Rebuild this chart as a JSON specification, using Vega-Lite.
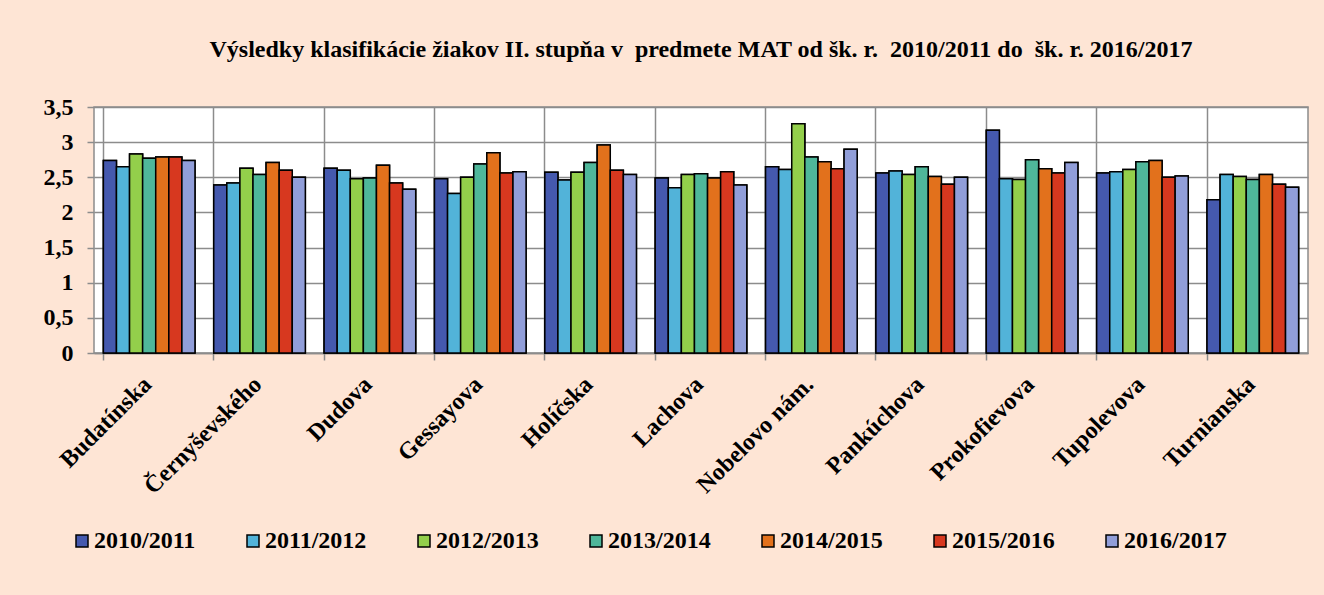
{
  "$schema": "https://vega.github.io/schema/vega-lite/v6.json",
  "width": 1214,
  "height": 246,
  "autosize": {"type": "none"},
  "padding": {"left": 94, "top": 107, "right": 16, "bottom": 242},
  "background": "#FEE5D5",
  "title": {
    "text": "Výsledky klasifikácie žiakov II. stupňa v \u00a0predmete MAT od šk. r. \u00a02010/2011 do \u00a0šk. r. 2016/2017",
    "font": "Liberation Serif",
    "fontSize": 24,
    "fontWeight": "bold",
    "color": "black",
    "anchor": "middle",
    "offset": 33
  },
  "data": {
    "values": [
      {"school": "Budatínska", "year": "2010/2011", "value": 2.74},
      {"school": "Budatínska", "year": "2011/2012", "value": 2.65},
      {"school": "Budatínska", "year": "2012/2013", "value": 2.83},
      {"school": "Budatínska", "year": "2013/2014", "value": 2.77},
      {"school": "Budatínska", "year": "2014/2015", "value": 2.79},
      {"school": "Budatínska", "year": "2015/2016", "value": 2.79},
      {"school": "Budatínska", "year": "2016/2017", "value": 2.74},
      {"school": "Černyševského", "year": "2010/2011", "value": 2.39},
      {"school": "Černyševského", "year": "2011/2012", "value": 2.42},
      {"school": "Černyševského", "year": "2012/2013", "value": 2.63},
      {"school": "Černyševského", "year": "2013/2014", "value": 2.54},
      {"school": "Černyševského", "year": "2014/2015", "value": 2.71},
      {"school": "Černyševského", "year": "2015/2016", "value": 2.60},
      {"school": "Černyševského", "year": "2016/2017", "value": 2.50},
      {"school": "Dudova", "year": "2010/2011", "value": 2.63},
      {"school": "Dudova", "year": "2011/2012", "value": 2.60},
      {"school": "Dudova", "year": "2012/2013", "value": 2.48},
      {"school": "Dudova", "year": "2013/2014", "value": 2.49},
      {"school": "Dudova", "year": "2014/2015", "value": 2.67},
      {"school": "Dudova", "year": "2015/2016", "value": 2.42},
      {"school": "Dudova", "year": "2016/2017", "value": 2.33},
      {"school": "Gessayova", "year": "2010/2011", "value": 2.48},
      {"school": "Gessayova", "year": "2011/2012", "value": 2.27},
      {"school": "Gessayova", "year": "2012/2013", "value": 2.50},
      {"school": "Gessayova", "year": "2013/2014", "value": 2.69},
      {"school": "Gessayova", "year": "2014/2015", "value": 2.85},
      {"school": "Gessayova", "year": "2015/2016", "value": 2.56},
      {"school": "Gessayova", "year": "2016/2017", "value": 2.58},
      {"school": "Holíčska", "year": "2010/2011", "value": 2.57},
      {"school": "Holíčska", "year": "2011/2012", "value": 2.46},
      {"school": "Holíčska", "year": "2012/2013", "value": 2.57},
      {"school": "Holíčska", "year": "2013/2014", "value": 2.71},
      {"school": "Holíčska", "year": "2014/2015", "value": 2.96},
      {"school": "Holíčska", "year": "2015/2016", "value": 2.60},
      {"school": "Holíčska", "year": "2016/2017", "value": 2.54},
      {"school": "Lachova", "year": "2010/2011", "value": 2.49},
      {"school": "Lachova", "year": "2011/2012", "value": 2.35},
      {"school": "Lachova", "year": "2012/2013", "value": 2.54},
      {"school": "Lachova", "year": "2013/2014", "value": 2.55},
      {"school": "Lachova", "year": "2014/2015", "value": 2.49},
      {"school": "Lachova", "year": "2015/2016", "value": 2.58},
      {"school": "Lachova", "year": "2016/2017", "value": 2.39},
      {"school": "Nobelovo nám.", "year": "2010/2011", "value": 2.65},
      {"school": "Nobelovo nám.", "year": "2011/2012", "value": 2.61},
      {"school": "Nobelovo nám.", "year": "2012/2013", "value": 3.26},
      {"school": "Nobelovo nám.", "year": "2013/2014", "value": 2.79},
      {"school": "Nobelovo nám.", "year": "2014/2015", "value": 2.72},
      {"school": "Nobelovo nám.", "year": "2015/2016", "value": 2.62},
      {"school": "Nobelovo nám.", "year": "2016/2017", "value": 2.90},
      {"school": "Pankúchova", "year": "2010/2011", "value": 2.56},
      {"school": "Pankúchova", "year": "2011/2012", "value": 2.59},
      {"school": "Pankúchova", "year": "2012/2013", "value": 2.54},
      {"school": "Pankúchova", "year": "2013/2014", "value": 2.65},
      {"school": "Pankúchova", "year": "2014/2015", "value": 2.51},
      {"school": "Pankúchova", "year": "2015/2016", "value": 2.40},
      {"school": "Pankúchova", "year": "2016/2017", "value": 2.50},
      {"school": "Prokofievova", "year": "2010/2011", "value": 3.17},
      {"school": "Prokofievova", "year": "2011/2012", "value": 2.48},
      {"school": "Prokofievova", "year": "2012/2013", "value": 2.47},
      {"school": "Prokofievova", "year": "2013/2014", "value": 2.75},
      {"school": "Prokofievova", "year": "2014/2015", "value": 2.62},
      {"school": "Prokofievova", "year": "2015/2016", "value": 2.56},
      {"school": "Prokofievova", "year": "2016/2017", "value": 2.71},
      {"school": "Tupolevova", "year": "2010/2011", "value": 2.56},
      {"school": "Tupolevova", "year": "2011/2012", "value": 2.58},
      {"school": "Tupolevova", "year": "2012/2013", "value": 2.61},
      {"school": "Tupolevova", "year": "2013/2014", "value": 2.72},
      {"school": "Tupolevova", "year": "2014/2015", "value": 2.74},
      {"school": "Tupolevova", "year": "2015/2016", "value": 2.50},
      {"school": "Tupolevova", "year": "2016/2017", "value": 2.52},
      {"school": "Turnianska", "year": "2010/2011", "value": 2.18},
      {"school": "Turnianska", "year": "2011/2012", "value": 2.54},
      {"school": "Turnianska", "year": "2012/2013", "value": 2.51},
      {"school": "Turnianska", "year": "2013/2014", "value": 2.47},
      {"school": "Turnianska", "year": "2014/2015", "value": 2.54},
      {"school": "Turnianska", "year": "2015/2016", "value": 2.40},
      {"school": "Turnianska", "year": "2016/2017", "value": 2.36}
    ]
  },
  "encoding": {
    "xOffset": {"field": "year", "type": "nominal", "sort": null},
    "y": {
      "field": "value",
      "type": "quantitative",
      "scale": {"domain": [0, 3.5], "nice": false},
      "axis": {
        "title": null,
        "values": [0, 0.5, 1, 1.5, 2, 2.5, 3, 3.5],
        "labelExpr": "replace(datum.value + '', '.', ',')",
        "grid": true,
        "gridColor": "#8c8c8c",
        "gridWidth": 1.5,
        "domain": false,
        "tickColor": "#8c8c8c",
        "tickWidth": 1.5,
        "tickSize": 7,
        "labelPadding": 14,
        "labelFont": "Liberation Serif",
        "labelFontSize": 24,
        "labelFontWeight": "bold",
        "labelColor": "black"
      }
    },
    "color": {
      "field": "year",
      "type": "nominal",
      "scale": {
        "domain": ["2010/2011", "2011/2012", "2012/2013", "2013/2014", "2014/2015", "2015/2016", "2016/2017"],
        "range": ["#4559AE", "#52B3D9", "#93CF4B", "#4FB79A", "#E2711C", "#D7381F", "#919ED9"]
      },
      "legend": {
        "title": null,
        "orient": "none",
        "legendX": -24,
        "legendY": 422,
        "direction": "horizontal",
        "symbolType": "square",
        "symbolSize": 144,
        "symbolStrokeColor": "black",
        "symbolStrokeWidth": 1.5,
        "labelOffset": 0,
        "columnPadding": 45,
        "labelFont": "Liberation Serif",
        "labelFontSize": 24,
        "labelFontWeight": "bold",
        "labelColor": "black"
      }
    }
  },
  "layer": [
    {
      "mark": {"type": "bar", "stroke": "black", "strokeWidth": 1.5},
      "encoding": {
        "x": {
          "field": "school",
          "type": "nominal",
          "sort": null,
          "scale": {"paddingInner": 0.17, "paddingOuter": 0.085},
          "axis": {
            "orient": "bottom",
            "title": null,
            "labels": false,
            "bandPosition": 0,
            "grid": true,
            "gridColor": "#8c8c8c",
            "gridWidth": 1.5,
            "domainColor": "#8c8c8c",
            "domainWidth": 1.5,
            "tickColor": "#8c8c8c",
            "tickWidth": 1.5,
            "tickSize": 7
          }
        }
      }
    },
    {
      "mark": {"type": "bar", "stroke": "black", "strokeWidth": 1.5},
      "encoding": {
        "x": {
          "field": "school",
          "type": "nominal",
          "sort": null,
          "axis": {
            "orient": "bottom",
            "title": null,
            "grid": false,
            "ticks": false,
            "domain": false,
            "labelAngle": -45,
            "labelPadding": 19,
            "labelOffset": -10,
            "labelFont": "Liberation Serif",
            "labelFontSize": 24,
            "labelFontWeight": "bold",
            "labelColor": "black"
          }
        }
      }
    }
  ],
  "resolve": {"axis": {"x": "independent"}},
  "config": {"view": {"stroke": "#8c8c8c", "strokeWidth": 1.5, "fill": "white"}}
}
